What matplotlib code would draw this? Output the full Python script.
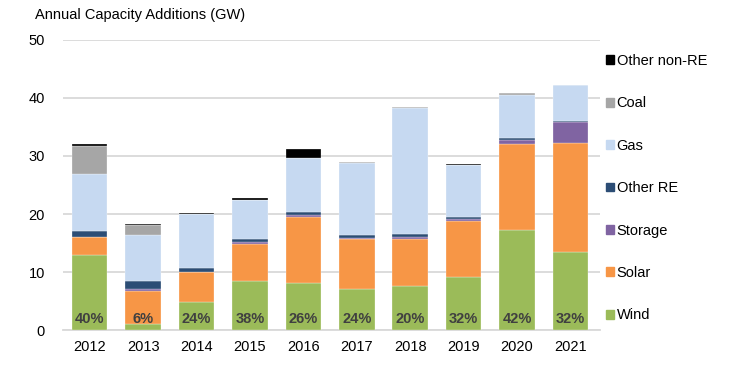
import matplotlib.pyplot as plt
import matplotlib.patches as mpatches
import numpy as np

plt.rcParams["font.family"] = ["Liberation Sans", "DejaVu Sans"]

years = ["2012", "2013", "2014", "2015", "2016", "2017", "2018", "2019", "2020", "2021"]

# GW per technology
wind = [13.0, 1.0, 4.8, 8.5, 8.2, 7.0, 7.6, 9.1, 17.2, 13.4]
solar = [3.0, 5.8, 5.2, 6.4, 11.3, 8.7, 8.1, 9.7, 14.9, 18.9]
storage = [0.05, 0.25, 0.05, 0.3, 0.3, 0.2, 0.3, 0.35, 0.7, 3.6]
other_re = [1.1, 1.4, 0.7, 0.5, 0.5, 0.5, 0.6, 0.35, 0.3, 0.1]
gas = [9.8, 7.9, 9.3, 6.8, 9.4, 12.4, 21.7, 9.0, 7.4, 6.3]
coal = [4.8, 1.8, 0.0, 0.0, 0.0, 0.1, 0.1, 0.0, 0.3, 0.0]
other_non_re = [0.3, 0.15, 0.15, 0.2, 1.5, 0.05, 0.05, 0.05, 0.0, 0.0]

wind_share = ["40%", "6%", "24%", "38%", "26%", "24%", "20%", "32%", "42%", "32%"]

series = [
    ("Wind", wind, "#9BBB59"),
    ("Solar", solar, "#F79646"),
    ("Storage", storage, "#8064A2"),
    ("Other RE", other_re, "#2C4D75"),
    ("Gas", gas, "#C6D9F1"),
    ("Coal", coal, "#A6A6A6"),
    ("Other non-RE", other_non_re, "#000000"),
]

fig = plt.figure(figsize=(7.44, 3.66), dpi=100)
ax = fig.add_axes([0.0847, 0.098, 0.7215, 0.793])

x = np.arange(len(years))
bottom = np.zeros(len(years))
handles = []
for name, vals, color in series:
    vals = np.array(vals)
    ax.bar(x, vals, 0.665, bottom=bottom, color=color, edgecolor="white",
           linewidth=0.2, zorder=3)
    bottom += vals
    handles.append(mpatches.Patch(color=color, label=name))

# wind share of additions, printed at the foot of each bar
for xi, lab in zip(x, wind_share):
    ax.text(xi, 2.0, lab, ha="center", va="center", fontsize=10.5,
            fontweight="bold", color="#404040", zorder=4)

ax.set_xlim(-0.5, 9.55)
ax.set_ylim(0, 50)
ax.set_yticks(range(0, 51, 10))
ax.set_xticks(x)
ax.set_xticklabels(years)
ax.tick_params(axis="both", length=0, labelsize=10.5, colors="#000000")
ax.tick_params(axis="y", pad=13)
ax.tick_params(axis="x", pad=7)
ax.grid(axis="y", color="#D9D9D9", linewidth=1.3, zorder=0)
for s in ["top", "right", "left"]:
    ax.spines[s].set_visible(False)
ax.spines["bottom"].set_color("#D9D9D9")
ax.spines["bottom"].set_linewidth(1.3)

fig.text(35 / 744, 1 - 15 / 366, "Annual Capacity Additions (GW)", fontsize=10.5,
         ha="left", va="center")

ax.legend(handles=handles[::-1], loc="upper left",
          bbox_to_anchor=(1.0, 0.972), frameon=False, fontsize=10.5,
          labelspacing=1.95, handlelength=0.55, handleheight=0.55,
          handletextpad=0.2, borderaxespad=0.0)

fig.savefig("out.png", dpi=100)
